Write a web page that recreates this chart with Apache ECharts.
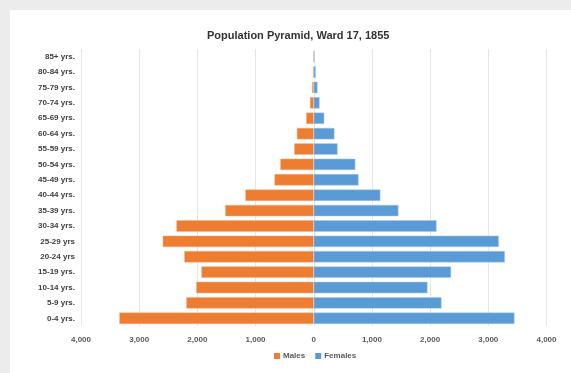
<!DOCTYPE html>
<html>
<head>
<meta charset="utf-8">
<script src="https://cdn.jsdelivr.net/npm/echarts@6/dist/echarts.min.js"></script>
<style>
  html, body { margin: 0; padding: 0; background: #ececec; }
  #chart { position: absolute; left: 10px; top: 10px; width: 561px; height: 363px; background: #fff; }
</style>
</head>
<body>
<div id="chart"></div>
<script>
// age groups, youngest first (drawn bottom to top)
const ageGroups = ['0-4 yrs.', '5-9 yrs.', '10-14 yrs.', '15-19 yrs.', '20-24 yrs', '25-29 yrs',
  '30-34 yrs.', '35-39 yrs.', '40-44 yrs.', '45-49 yrs.', '50-54 yrs.', '55-59 yrs.',
  '60-64 yrs.', '65-69 yrs.', '70-74 yrs.', '75-79 yrs.', '80-84 yrs.', '85+ yrs.'];
const males = [3340, 2190, 2020, 1930, 2225, 2595, 2360, 1520, 1175, 675, 575, 335, 290, 130, 65, 30, 15, 10];
const females = [3450, 2195, 1955, 2360, 3285, 3180, 2110, 1455, 1145, 770, 715, 410, 355, 180, 100, 65, 35, 10];

const chart = echarts.init(document.getElementById('chart'));
const fmt = v => Math.abs(v).toLocaleString('en-US');

chart.setOption({
  animation: false,
  textStyle: { fontFamily: 'Liberation Sans' },
  title: {
    text: 'Population Pyramid, Ward 17, 1855',
    left: 192, top: 15,
    textStyle: { fontSize: 11, fontWeight: 'bold', color: '#333' }
  },
  legend: {
    bottom: 8, left: 259,
    itemWidth: 6, itemHeight: 6, itemGap: 10,
    icon: 'rect',
    itemStyle: { borderWidth: 0 },
    textStyle: { fontSize: 8, fontWeight: 'bold', color: '#595959', padding: [0, 0, 0, -2] },
    data: ['Males', 'Females']
  },
  grid: { left: 71, right: 24.5, top: 39, bottom: 47, containLabel: false },
  xAxis: {
    type: 'value', min: -4000, max: 4000, interval: 1000,
    axisLabel: { formatter: fmt, fontSize: 8, fontWeight: 'bold', color: '#595959', margin: 10 },
    axisLine: { show: false }, axisTick: { show: false },
    splitLine: { lineStyle: { color: '#e6e6e6', width: 1 } }
  },
  yAxis: {
    type: 'category', data: ageGroups,
    axisLine: { show: false }, axisTick: { show: false },
    axisLabel: { fontSize: 8, fontWeight: 'bold', color: '#404040', margin: 6 }
  },
  series: [
    {
      name: 'Males', type: 'bar', stack: 'pop',
      data: males.map(v => -v),
      barCategoryGap: '26%',
      itemStyle: { color: '#ED7D31', borderColor: '#f6b184', borderWidth: 0.5 }
    },
    {
      name: 'Females', type: 'bar', stack: 'pop',
      data: females,
      barCategoryGap: '26%',
      itemStyle: { color: '#5B9BD5', borderColor: '#a9cbea', borderWidth: 0.5 }
    }
  ]
});
</script>
</body>
</html>
